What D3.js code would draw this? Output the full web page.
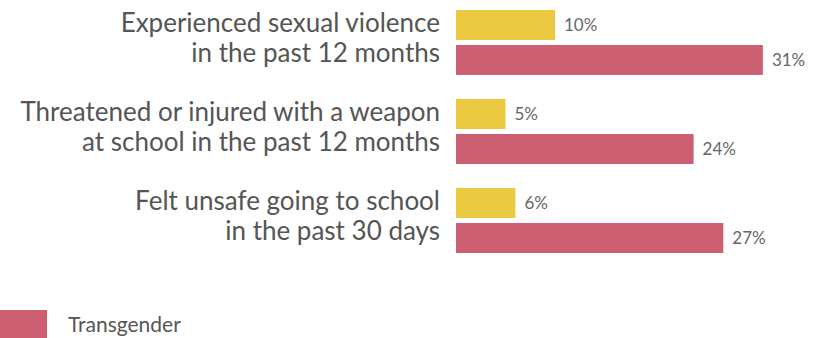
<!DOCTYPE html>
<html>
<head>
<meta charset="utf-8">
<script src="https://cdn.jsdelivr.net/npm/d3@7"></script>
<style>
  body { margin: 0; background: #fff; }
  text { font-family: Lato, "Open Sans", sans-serif; }
</style>
</head>
<body>
<div class="chart"></div>
<script>
var svgWidth = 821;
var svgHeight = 338;

// data
var categories = ["sexual", "weapon", "unsafe"];
var categoryLines = [
  ["Experienced sexual violence", "in the past 12 months"],
  ["Threatened or injured with a weapon", "at school in the past 12 months"],
  ["Felt unsafe going to school", "in the past 30 days"]
];
var seriesNames = ["Cisgender", "Transgender"];
var cisValues = [10, 5, 6];
var transValues = [31, 24, 27];

var colors = { Cisgender: "#ebc940", Transgender: "#cc6072" };

var svg = d3.select(".chart")
  .append("svg")
  .attr("width", svgWidth)
  .attr("height", svgHeight);

var xScale = d3.scaleLinear()
  .domain([0, 100])
  .range([456, 456 + 990]);

var yScale = d3.scaleBand()
  .domain(categories)
  .range([10, 253])
  .paddingInner(0.27)
  .paddingOuter(0)
  .align(0);

var innerScale = d3.scaleBand()
  .domain(seriesNames)
  .range([0, yScale.bandwidth()])
  .paddingInner(0.143);

var rows = categories.map(function(c, i) {
  return { key: c, lines: categoryLines[i], values: [
    { series: "Cisgender", value: cisValues[i] },
    { series: "Transgender", value: transValues[i] }
  ]};
});

var groups = svg.selectAll(".group")
  .data(rows)
  .enter()
  .append("g")
  .attr("class", "group")
  .attr("transform", d => `translate(0, ${yScale(d.key)})`);

// category labels
groups.append("text")
  .attr("text-anchor", "end")
  .attr("fill", "#555")
  .style("font-size", "26px")
  .selectAll("tspan")
  .data(d => d.lines)
  .enter()
  .append("tspan")
  .attr("x", 440)
  .attr("y", (d, i) => 22 + i * 30)
  .text(d => d);

// bars
groups.selectAll("rect")
  .data(d => d.values)
  .enter()
  .append("rect")
  .attr("x", xScale(0))
  .attr("y", d => innerScale(d.series))
  .attr("width", d => xScale(d.value) - xScale(0))
  .attr("height", innerScale.bandwidth())
  .attr("fill", d => colors[d.series]);

// value labels
groups.selectAll(".val")
  .data(d => d.values)
  .enter()
  .append("text")
  .attr("class", "val")
  .attr("x", d => xScale(d.value) + 9)
  .attr("y", d => innerScale(d.series) + innerScale.bandwidth() / 2 + 6)
  .attr("fill", "#666")
  .style("font-size", "17px")
  .text(d => d.value + "%");

// legend (only the Transgender swatch is visible in frame)
var legend = svg.append("g");
legend.append("rect")
  .attr("x", 0)
  .attr("y", 310)
  .attr("width", 47)
  .attr("height", 30)
  .attr("fill", colors.Transgender);
legend.append("text")
  .attr("x", 68)
  .attr("y", 332)
  .attr("fill", "#555")
  .style("font-size", "21px")
  .text("Transgender");
</script>
</body>
</html>
